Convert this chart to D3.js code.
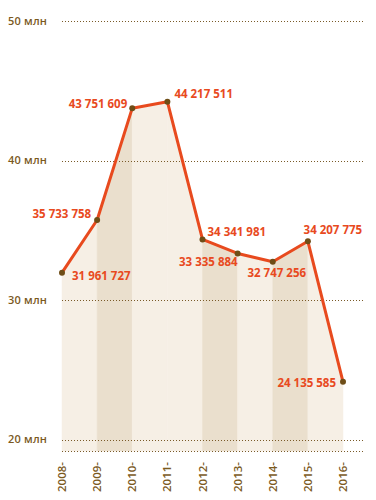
<!DOCTYPE html>
<html>
<head>
<meta charset="utf-8">
<script src="https://cdn.jsdelivr.net/npm/d3@7"></script>
<style>
  body { margin: 0; background: #fff; }
  svg { display: block; font-family: "Open Sans", sans-serif; }
</style>
</head>
<body>
<div id="chart"></div>
<script>
//DATA
const years = ['2008', '2009', '2010', '2011', '2012', '2013', '2014', '2015', '2016'];
const values = [31961727, 35733758, 43751609, 44217511, 34341981, 33335884, 32747256, 34207775, 24135585];
const yTicks = [20000000, 30000000, 40000000, 50000000];
const yTickLabels = ['20 млн', '30 млн', '40 млн', '50 млн'];

//LABEL PLACEMENT (anchor, dx, dy) PER POINT
const labelPos = [
    ['start', 10, 3], ['end', -6, -6], ['end', -5, -4], ['start', 7, -8], ['start', 5, -7],
    ['end', 0, 9], ['middle', 4, 11], ['middle', 25, -11], ['end', -7, 1]
];
//BAND SHADES BETWEEN POINTS
const bandShade = [0, 1, 0, 0, 1, 0, 1, 0];

const width = 376;
const height = 500;
const bottom = 451;

const svg = d3.select('#chart').append('svg').attr('width', width).attr('height', height);

const x = d3.scalePoint().domain(years).range([62, 343]);
const y = d3.scaleLinear().domain([20000000, 50000000]).range([439.5, 21]);

const fmt = v => d3.format(',')(v).replace(/,/g, ' ');

//BANDS UNDER THE LINE
const area = d3.area().x(d => x(d.year)).y0(bottom).y1(d => y(d.value));
const pts = years.map((yr, i) => ({ year: yr, value: values[i] }));
svg.append('g').selectAll('path').data(d3.range(years.length - 1))
    .enter().append('path')
    .attr('d', i => area([pts[i], pts[i + 1]]))
    .attr('fill', i => bandShade[i] ? '#eadfcd' : '#f6efe5')
    .attr('stroke', i => bandShade[i] ? '#eadfcd' : '#f6efe5')
    .attr('stroke-width', 0.5);

//GRID LINES
const grid = svg.append('g');
grid.selectAll('line').data(yTicks.map(y).concat([bottom]))
    .enter().append('line')
    .attr('x1', 62).attr('x2', 365)
    .attr('y1', d => Math.round(d) + 0.5).attr('y2', d => Math.round(d) + 0.5)
    .attr('stroke', '#7a5a28')
    .attr('stroke-width', 1)
    .attr('stroke-dasharray', '1,2');

//Y LABELS
svg.append('g').selectAll('text').data(yTicks)
    .enter().append('text')
    .attr('x', 8)
    .attr('y', d => y(d))
    .attr('dy', '0.35em')
    .attr('fill', '#7b5a1e')
    .style('font-size', '11px')
    .style('font-weight', 600)
    .style('letter-spacing', '0.2px')
    .text((d, i) => yTickLabels[i]);

//X LABELS
svg.append('g').selectAll('text').data(years)
    .enter().append('text')
    .attr('transform', d => 'translate(' + (x(d) + 4) + ',462) rotate(-90)')
    .attr('text-anchor', 'end')
    .attr('fill', '#7b5a1e')
    .style('font-size', '11.5px')
    .style('font-weight', 600)
    .text(d => d + '-');

//LINE
const line = d3.line().x(d => x(d.year)).y(d => y(d.value));
svg.append('path')
    .attr('d', line(pts))
    .attr('fill', 'none')
    .attr('stroke', '#e84a1e')
    .attr('stroke-width', 3)
    .attr('stroke-linejoin', 'round');

//POINTS
svg.append('g').selectAll('circle').data(pts)
    .enter().append('circle')
    .attr('cx', d => x(d.year))
    .attr('cy', d => y(d.value))
    .attr('r', 3)
    .attr('fill', '#6e4d16');

//VALUE LABELS
svg.append('g').selectAll('text').data(pts)
    .enter().append('text')
    .attr('x', (d, i) => x(d.year) + labelPos[i][1])
    .attr('y', (d, i) => y(d.value) + labelPos[i][2])
    .attr('dy', '0.35em')
    .attr('text-anchor', (d, i) => labelPos[i][0])
    .attr('fill', '#e84a1e')
    .style('font-size', '11.5px')
    .style('font-weight', 700)
    .text(d => fmt(d.value));
</script>
</body>
</html>
